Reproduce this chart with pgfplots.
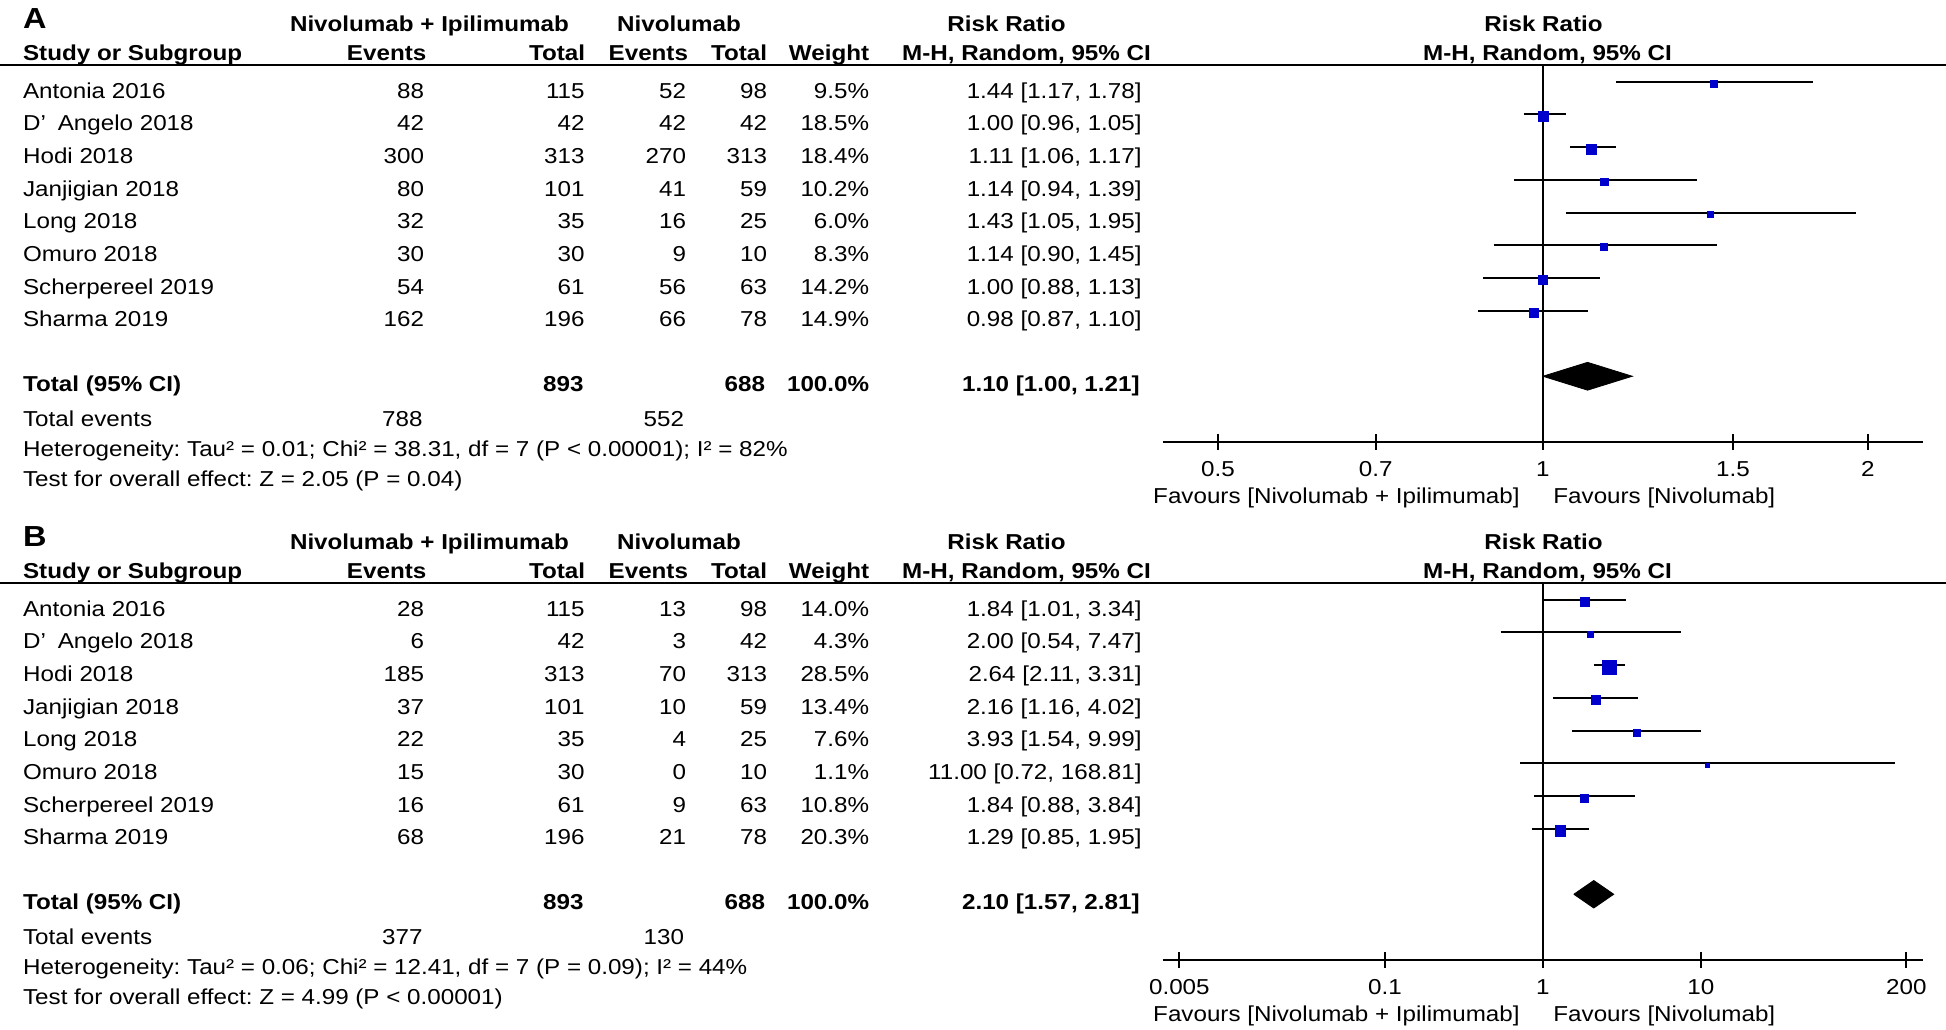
\documentclass[border=0pt]{standalone}
\usepackage{fontspec}
\setmainfont{Liberation Sans}[FakeStretch=1.12]
\usepackage{pgfplots}
\pgfplotsset{compat=1.18}
\usepackage{pgfplotstable}
\definecolor{mblue}{RGB}{0,0,204}
\newcommand{\ft}{\fontsize{10.8}{13}\selectfont}
\frenchspacing

% y = -row, rr, lower, upper, w = marker width in px
\pgfplotstableread{
y rr lo hi w
-1 1.44 1.17 1.78 7
-2 1.00 0.96 1.05 10
-3 1.11 1.06 1.17 10
-4 1.14 0.94 1.39 7.5
-5 1.43 1.05 1.95 6
-6 1.14 0.90 1.45 7
-7 1.00 0.88 1.13 8.6
-8 0.98 0.87 1.10 9
}\dataA
\pgfplotstableread{
y rr lo hi w
-1 1.84 1.01 3.34 8.5
-2 2.00 0.54 7.47 5.6
-3 2.64 2.11 3.31 13.8
-4 2.16 1.16 4.02 8.6
-5 3.93 1.54 9.99 7
-6 11.00 0.72 168.81 4.5
-7 1.84 0.88 3.84 8
-8 1.29 0.85 1.95 10.5
}\dataB

\newcommand{\trow}[8]{%
  \node[lft] at (22.7,#1) {#2};
  \node[rgt] at (424.5,#1) {#3};
  \node[rgt] at (585,#1) {#4};
  \node[rgt] at (686.5,#1) {#5};
  \node[rgt] at (767.5,#1) {#6};
  \node[rgt] at (869.5,#1) {#7};
  \node[rgt] at (1142,#1) {#8};}

\newcommand{\headers}[1]{%
  \node[anchor=base west, inner sep=0, font=\fontsize{14.5}{16}\selectfont\bfseries] at (22.7,28.3) {#1};
  \node[ctr, font=\ft\bfseries] at (429.5,31.7) {Nivolumab + Ipilimumab};
  \node[ctr, font=\ft\bfseries] at (679,31.7) {Nivolumab};
  \node[ctr, font=\ft\bfseries] at (1006.6,31.7) {Risk Ratio};
  \node[ctr, font=\ft\bfseries] at (1543.5,31.7) {Risk Ratio};
  \node[lft, font=\ft\bfseries] at (22.7,60.5) {Study or Subgroup};
  \node[rgt, font=\ft\bfseries] at (426.7,60.5) {Events};
  \node[rgt, font=\ft\bfseries] at (585.5,60.5) {Total};
  \node[rgt, font=\ft\bfseries] at (688.4,60.5) {Events};
  \node[rgt, font=\ft\bfseries] at (767.5,60.5) {Total};
  \node[rgt, font=\ft\bfseries] at (869.5,60.5) {Weight};
  \node[ctr, font=\ft\bfseries] at (1026.5,60.5) {M-H, Random, 95\% CI};
  \node[ctr, font=\ft\bfseries] at (1547.5,60.5) {M-H, Random, 95\% CI};
  \draw[line width=1pt] (0,65) -- (1946,65);
  \node[rgt] at (1520,503.3) {Favours [Nivolumab + Ipilimumab]};
  \node[lft] at (1553,503.3) {Favours [Nivolumab]};
}

\begin{document}
\begin{tikzpicture}[x=0.5pt,y=-0.5pt,
  lft/.style={anchor=base west, inner sep=0, font=\ft},
  rgt/.style={anchor=base east, inner sep=0, font=\ft},
  ctr/.style={anchor=base, inner sep=0, font=\ft}]
\useasboundingbox (0,0) rectangle (1946,1029);

% ---------------- Panel A ----------------
\headers{A}
\trow{98.3}{Antonia 2016}{88}{115}{52}{98}{9.5\%}{1.44 [1.17, 1.78]}
\trow{130.9}{D’\hspace{0.55em}Angelo 2018}{42}{42}{42}{42}{18.5\%}{1.00 [0.96, 1.05]}
\trow{163.6}{Hodi 2018}{300}{313}{270}{313}{18.4\%}{1.11 [1.06, 1.17]}
\trow{196.2}{Janjigian 2018}{80}{101}{41}{59}{10.2\%}{1.14 [0.94, 1.39]}
\trow{228.8}{Long 2018}{32}{35}{16}{25}{6.0\%}{1.43 [1.05, 1.95]}
\trow{261.5}{Omuro 2018}{30}{30}{9}{10}{8.3\%}{1.14 [0.90, 1.45]}
\trow{294.1}{Scherpereel 2019}{54}{61}{56}{63}{14.2\%}{1.00 [0.88, 1.13]}
\trow{326.7}{Sharma 2019}{162}{196}{66}{78}{14.9\%}{0.98 [0.87, 1.10]}
\node[lft, font=\ft\bfseries] at (22.7,391.7) {Total (95\% CI)};
\node[rgt, font=\ft\bfseries] at (584,391.7) {893};
\node[rgt, font=\ft\bfseries] at (765.5,391.7) {688};
\node[rgt, font=\ft\bfseries] at (869.5,391.7) {100.0\%};
\node[rgt, font=\ft\bfseries] at (1140,391.7) {1.10 [1.00, 1.21]};
\node[lft] at (22.7,426.7) {Total events};
\node[rgt] at (423,426.7) {788};
\node[rgt] at (684.5,426.7) {552};
\node[lft] at (22.7,456.7) {Heterogeneity: Tau² = 0.01; Chi² = 38.31, df = 7 (P < 0.00001); I² = 82\%};
\node[lft] at (22.7,486.7) {Test for overall effect: Z = 2.05 (P = 0.04)};

\begin{scope}[x=1cm,y=1cm]
\begin{axis}[at={(581.35pt,-220.85pt)}, anchor=south west,
  scale only axis, width=380.15pt, height=188.2pt, xmode=log,
  ymin=-12, ymax=-0.5, axis y line=none, axis x line=bottom,
  x axis line style={-, line width=1pt},
  tick style={black, line width=1pt}, major tick length=8pt, tick align=center,
  minor xtick={}, clip=false,
  xticklabel style={font=\ft, anchor=base, yshift=-13.6pt},
  /pgf/number format/assume math mode=true,
  xmin=0.4444, xmax=2.25,
  xtick={0.5,0.7,1,1.5,2}, xticklabels={0.5,0.7,1,1.5,2}]
\addplot[black, line width=0.75pt] coordinates {(1,-0.5) (1,-12)};
\addplot[black, line width=1pt] coordinates {(1.17,-1) (1.78,-1)};
\addplot[black, line width=1pt] coordinates {(0.96,-2) (1.05,-2)};
\addplot[black, line width=1pt] coordinates {(1.06,-3) (1.17,-3)};
\addplot[black, line width=1pt] coordinates {(0.94,-4) (1.39,-4)};
\addplot[black, line width=1pt] coordinates {(1.05,-5) (1.95,-5)};
\addplot[black, line width=1pt] coordinates {(0.90,-6) (1.45,-6)};
\addplot[black, line width=1pt] coordinates {(0.88,-7) (1.13,-7)};
\addplot[black, line width=1pt] coordinates {(0.87,-8) (1.10,-8)};
\addplot[scatter, only marks, mark=square*,
  scatter/use mapped color={draw=mblue, fill=mblue},
  visualization depends on={\thisrow{w}/4 \as \ms},
  scatter/@pre marker code/.append style={/tikz/mark size=\ms, /tikz/yshift=-1pt}]
  table[x=rr, y=y] {\dataA};
\addplot[fill=black, draw=black, line width=0.4pt] coordinates {(1.00,-10) (1.10,-9.575) (1.21,-10) (1.10,-10.425) (1.00,-10)};
\end{axis}
\end{scope}

% ---------------- Panel B ----------------
\begin{scope}[yshift=-259pt]
\headers{B}
\trow{98.3}{Antonia 2016}{28}{115}{13}{98}{14.0\%}{1.84 [1.01, 3.34]}
\trow{130.9}{D’\hspace{0.55em}Angelo 2018}{6}{42}{3}{42}{4.3\%}{2.00 [0.54, 7.47]}
\trow{163.6}{Hodi 2018}{185}{313}{70}{313}{28.5\%}{2.64 [2.11, 3.31]}
\trow{196.2}{Janjigian 2018}{37}{101}{10}{59}{13.4\%}{2.16 [1.16, 4.02]}
\trow{228.8}{Long 2018}{22}{35}{4}{25}{7.6\%}{3.93 [1.54, 9.99]}
\trow{261.5}{Omuro 2018}{15}{30}{0}{10}{1.1\%}{11.00 [0.72, 168.81]}
\trow{294.1}{Scherpereel 2019}{16}{61}{9}{63}{10.8\%}{1.84 [0.88, 3.84]}
\trow{326.7}{Sharma 2019}{68}{196}{21}{78}{20.3\%}{1.29 [0.85, 1.95]}
\node[lft, font=\ft\bfseries] at (22.7,391.7) {Total (95\% CI)};
\node[rgt, font=\ft\bfseries] at (584,391.7) {893};
\node[rgt, font=\ft\bfseries] at (765.5,391.7) {688};
\node[rgt, font=\ft\bfseries] at (869.5,391.7) {100.0\%};
\node[rgt, font=\ft\bfseries] at (1140,391.7) {2.10 [1.57, 2.81]};
\node[lft] at (22.7,426.7) {Total events};
\node[rgt] at (423,426.7) {377};
\node[rgt] at (684.5,426.7) {130};
\node[lft] at (22.7,456.7) {Heterogeneity: Tau² = 0.06; Chi² = 12.41, df = 7 (P = 0.09); I² = 44\%};
\node[lft] at (22.7,486.7) {Test for overall effect: Z = 4.99 (P < 0.00001)};
\end{scope}

\begin{scope}[x=1cm,y=1cm]
\begin{axis}[at={(581.35pt,-479.85pt)}, anchor=south west,
  scale only axis, width=380.15pt, height=188.2pt, xmode=log,
  ymin=-12, ymax=-0.5, axis y line=none, axis x line=bottom,
  x axis line style={-, line width=1pt},
  tick style={black, line width=1pt}, major tick length=8pt, tick align=center,
  minor xtick={}, clip=false,
  xticklabel style={font=\ft, anchor=base, yshift=-13.6pt},
  /pgf/number format/assume math mode=true,
  xmin=0.003922, xmax=255,
  xtick={0.005,0.1,1,10,200}, xticklabels={0.005,0.1,1,10,200}]
\addplot[black, line width=0.75pt] coordinates {(1,-0.5) (1,-12)};
\addplot[black, line width=1pt] coordinates {(1.01,-1) (3.34,-1)};
\addplot[black, line width=1pt] coordinates {(0.54,-2) (7.47,-2)};
\addplot[black, line width=1pt] coordinates {(2.11,-3) (3.31,-3)};
\addplot[black, line width=1pt] coordinates {(1.16,-4) (4.02,-4)};
\addplot[black, line width=1pt] coordinates {(1.54,-5) (9.99,-5)};
\addplot[black, line width=1pt] coordinates {(0.72,-6) (168.81,-6)};
\addplot[black, line width=1pt] coordinates {(0.88,-7) (3.84,-7)};
\addplot[black, line width=1pt] coordinates {(0.85,-8) (1.95,-8)};
\addplot[scatter, only marks, mark=square*,
  scatter/use mapped color={draw=mblue, fill=mblue},
  visualization depends on={\thisrow{w}/4 \as \ms},
  scatter/@pre marker code/.append style={/tikz/mark size=\ms, /tikz/yshift=-1pt}]
  table[x=rr, y=y] {\dataB};
\addplot[fill=black, draw=black, line width=0.4pt] coordinates {(1.57,-10) (2.10,-9.58) (2.81,-10) (2.10,-10.42) (1.57,-10)};
\end{axis}
\end{scope}
\end{tikzpicture}
\end{document}
